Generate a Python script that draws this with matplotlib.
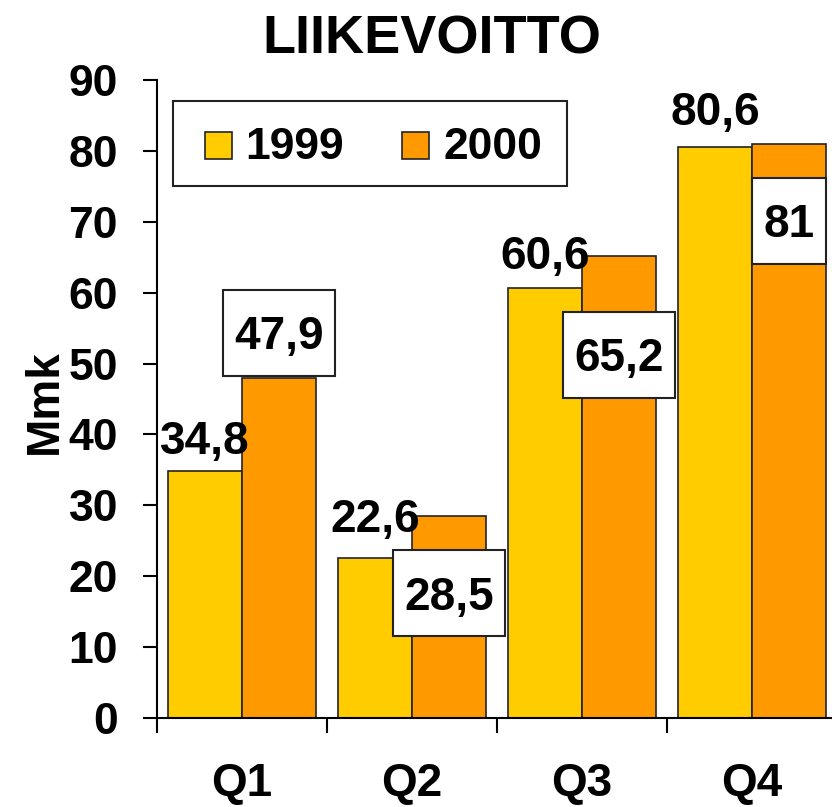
import matplotlib
matplotlib.use('Agg')
import numpy as np
import matplotlib.pyplot as plt
from matplotlib.patches import Rectangle

plt.rcParams['font.family'] = ['Liberation Sans', 'DejaVu Sans']
plt.rcParams['font.weight'] = 'bold'

quarters = ['Q1', 'Q2', 'Q3', 'Q4']
years = ['1999', '2000']
vals_1999 = [34.8, 22.6, 60.6, 80.6]
vals_2000 = [47.9, 28.5, 65.2, 81.0]
labels_1999 = ['34,8', '22,6', '60,6', '80,6']
labels_2000 = ['47,9', '28,5', '65,2', '81']

# where the value labels sit (centre of the digits, data units), as placed on the slide
lab99_y = [39.5, 28.5, 65.6, 85.9]
lab00_y = [54.3, 17.6, 51.2, 70.1]

col_99 = '#FFCC00'
col_00 = '#FF9900'
edge = '#222222'

W, H = 832, 807
fig = plt.figure(figsize=(W/100, H/100), dpi=100)
ax = fig.add_axes([157/W, 89/H, 680/W, 638/H])

x = np.arange(len(quarters))
w = 0.435
ax.bar(x - w/2, vals_1999, width=w, color=col_99, edgecolor=edge, linewidth=1.2)
ax.bar(x + w/2, vals_2000, width=w, color=col_00, edgecolor=edge, linewidth=1.2)

ax.set_xlim(-0.5, 3.5)
ax.set_ylim(0, 90)

# pixel -> data scale factors
px_x = 4.0 / 680
px_y = 90.0 / 638
half_cap = 16.4  # px, half the cap height of the 33pt labels

txt00 = []
for i in range(len(quarters)):
    ax.text(x[i] - w/2, lab99_y[i] - half_cap*px_y, labels_1999[i], ha='center',
            va='baseline', fontsize=33, fontweight='bold')
    t = ax.text(x[i] + w/2, lab00_y[i] - half_cap*px_y, labels_2000[i], ha='center',
                va='baseline', fontsize=33, fontweight='bold', zorder=5)
    txt00.append(t)

fig.canvas.draw()
r = fig.canvas.get_renderer()
for i, t in enumerate(txt00):
    tw = t.get_window_extent(r).width
    bw = (tw + 22) * px_x
    bh = 86 * px_y
    ax.add_patch(Rectangle((x[i] + w/2 - bw/2, lab00_y[i] - bh/2), bw, bh,
                           fc='white', ec=edge, lw=1.5, zorder=4))

ax.set_yticks(range(0, 91, 10))
ax.tick_params(axis='y', direction='out', length=10, width=1.5, pad=18, labelsize=32)
ax.set_xticks(np.arange(-0.5, 3.5, 1.0))
ax.set_xticklabels([])
ax.set_xticks(x, minor=True)
ax.set_xticklabels(quarters, minor=True)
ax.tick_params(axis='x', which='major', direction='out', length=11, width=1.5)
ax.tick_params(axis='x', which='minor', length=0, pad=32, labelsize=33)
for lab in ax.get_yticklabels() + ax.get_xticklabels(minor=True):
    lab.set_fontweight('bold')

ax.spines['top'].set_visible(False)
ax.spines['right'].set_visible(False)
ax.spines['left'].set_linewidth(1.5)
ax.spines['bottom'].set_linewidth(1.5)
ax.set_facecolor('none')

fig.text(45/W, 1 - 402/H, 'Mmk', rotation=90, ha='center', va='center',
         fontsize=33, fontweight='bold')
fig.text(432/W, 1 - 53/H, 'LIIKEVOITTO', ha='center', va='baseline',
         fontsize=39, fontweight='bold')

# legend box
fig.patches.append(Rectangle((173/W, 1 - 186/H), 394/W, 85/H, transform=fig.transFigure,
                             fc='white', ec=edge, lw=1.5, zorder=3))
for sq_x, txt_x, col, yr in [(205, 245, col_99, years[0]), (402, 443, col_00, years[1])]:
    fig.patches.append(Rectangle((sq_x/W, 1 - 159/H), 27/W, 27/H, transform=fig.transFigure,
                                 fc=col, ec=edge, lw=1.2, zorder=4))
    fig.text(txt_x/W, 1 - 159/H, yr, ha='left', va='baseline', fontsize=32,
             fontweight='bold', zorder=5)

plt.savefig('out.png', format='png')
